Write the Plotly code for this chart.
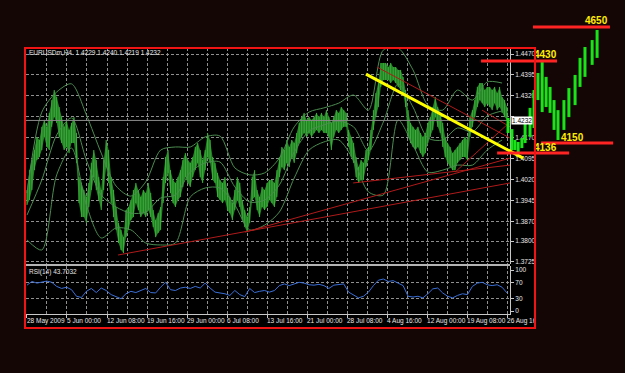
import plotly.graph_objects as go

W, H = 625, 373

# ------------------------------------------------------------------ DATA
TITLE = "EURUSDm,H4  1.4229 1.4240 1.4219 1.4232"
RSI_TITLE = "RSI(14) 43.7032"
LAST_PRICE = 1.4232

HIGH = [
    1.3983, 1.4054, 1.4090, 1.4126, 1.4173, 1.4162, 1.4209, 1.4234, 1.4209, 1.4259,
    1.4305, 1.4341, 1.4316, 1.4280, 1.4244, 1.4209, 1.4234, 1.4198, 1.4223, 1.4244,
    1.4187, 1.4029, 1.4008, 1.3983, 1.3958, 1.4008, 1.4080, 1.4126, 1.4090, 1.4029,
    1.3983, 1.4090, 1.4162, 1.4126, 1.4029, 1.3983, 1.3922, 1.3865, 1.3840, 1.3814,
    1.3911, 1.3922, 1.3947, 1.3983, 1.4008, 1.3983, 1.3958, 1.3983, 1.3972,
    1.4008, 1.3972, 1.3911, 1.3875, 1.3900, 1.3922, 1.4029, 1.4101, 1.4126, 1.4054,
    1.4019, 1.4008, 1.4029, 1.4054, 1.4090, 1.4115, 1.4090, 1.4080, 1.4101, 1.4137,
    1.4151, 1.4126, 1.4090, 1.4126, 1.4187, 1.4162, 1.4101, 1.4080, 1.4044, 1.4019,
    1.4008, 1.4029, 1.3983, 1.3958, 1.3936, 1.3983, 1.4029, 1.4008, 1.3947, 1.3911,
    1.3886, 1.3922, 1.4029, 1.4054, 1.3983, 1.3958, 1.3994, 1.3983, 1.4008, 1.4019,
    1.4019, 1.4008, 1.4054, 1.4101, 1.4137, 1.4126, 1.4162, 1.4137, 1.4162, 1.4151,
    1.4187, 1.4223, 1.4244, 1.4259, 1.4234, 1.4244, 1.4234, 1.4244, 1.4259, 1.4244,
    1.4259, 1.4244, 1.4269, 1.4244, 1.4223, 1.4244, 1.4269, 1.4259, 1.4280, 1.4269,
    1.4259, 1.4198, 1.4173, 1.4151, 1.4101, 1.4065, 1.4090, 1.4080, 1.4126, 1.4137,
    1.4198, 1.4269, 1.4330, 1.4366, 1.4438, 1.4438, 1.4438, 1.4423, 1.4438, 1.4423,
    1.4423, 1.4413, 1.4413, 1.4388, 1.4341, 1.4269, 1.4223, 1.4209, 1.4198, 1.4209,
    1.4187, 1.4173, 1.4187, 1.4223, 1.4244, 1.4280, 1.4316, 1.4280, 1.4259, 1.4223,
    1.4173, 1.4151, 1.4137, 1.4115, 1.4126, 1.4137, 1.4151, 1.4162, 1.4173, 1.4162,
    1.4244, 1.4269, 1.4305, 1.4352, 1.4366, 1.4366, 1.4341, 1.4352, 1.4352, 1.4341,
    1.4352, 1.4330, 1.4352, 1.4316, 1.4305, 1.4280,
]
LOW = [
    1.3929, 1.3947, 1.3983, 1.4054, 1.4090, 1.4101, 1.4126, 1.4173, 1.4137, 1.4126,
    1.4209, 1.4244, 1.4223, 1.4173, 1.4151, 1.4126, 1.4137, 1.4115, 1.4151, 1.4151,
    1.4080, 1.3936, 1.3886, 1.3886, 1.3865, 1.3922, 1.3983, 1.4029, 1.3983, 1.3947,
    1.3911, 1.3983, 1.4065, 1.4008, 1.3936, 1.3886, 1.3840, 1.3793, 1.3768, 1.3757,
    1.3814, 1.3840, 1.3875, 1.3886, 1.3936, 1.3911, 1.3886, 1.3900, 1.3886,
    1.3911, 1.3886, 1.3850, 1.3814, 1.3829, 1.3840, 1.3936, 1.4008, 1.4044, 1.3972,
    1.3936, 1.3922, 1.3947, 1.3958, 1.3994, 1.4029, 1.4008, 1.3994, 1.4029, 1.4054,
    1.4080, 1.4029, 1.4008, 1.4054, 1.4101, 1.4080, 1.4019, 1.4008, 1.3958, 1.3947,
    1.3936, 1.3947, 1.3911, 1.3900, 1.3875, 1.3911, 1.3947, 1.3922, 1.3875, 1.3850,
    1.3832, 1.3865, 1.3947, 1.3958, 1.3911, 1.3886, 1.3922, 1.3911, 1.3922, 1.3947,
    1.3936, 1.3922, 1.3958, 1.4029, 1.4065, 1.4054, 1.4080, 1.4065, 1.4101, 1.4080,
    1.4115, 1.4151, 1.4173, 1.4187, 1.4173, 1.4187, 1.4173, 1.4187, 1.4198, 1.4187,
    1.4198, 1.4187, 1.4187, 1.4173, 1.4126, 1.4173, 1.4198, 1.4187, 1.4198, 1.4209,
    1.4209, 1.4137, 1.4101, 1.4080, 1.4029, 1.4008, 1.4019, 1.4019, 1.4065, 1.4090,
    1.4126, 1.4198, 1.4244, 1.4280, 1.4352, 1.4377, 1.4377, 1.4377, 1.4366, 1.4377,
    1.4366, 1.4352, 1.4341, 1.4330, 1.4280, 1.4173, 1.4151, 1.4137, 1.4126, 1.4137,
    1.4115, 1.4101, 1.4115, 1.4151, 1.4173, 1.4198, 1.4244, 1.4209, 1.4187, 1.4137,
    1.4101, 1.4080, 1.4065, 1.4054, 1.4054, 1.4080, 1.4090, 1.4101, 1.4101, 1.4090,
    1.4173, 1.4209, 1.4244, 1.4280, 1.4305, 1.4294, 1.4280, 1.4294, 1.4280, 1.4269,
    1.4294, 1.4269, 1.4280, 1.4259, 1.4244, 1.4234,
]

BAND_STEP = 6  # one band value every 6 price samples
BAND_UP = [
    1.3972, 1.4262, 1.4334, 1.4363, 1.4252, 1.4115, 1.3997, 1.3961, 1.4012, 1.4126,
    1.4137, 1.4137, 1.4173, 1.4176, 1.4062, 1.4037, 1.4044, 1.4097, 1.4209, 1.4262,
    1.4277, 1.4294, 1.4323, 1.4269, 1.4484, 1.4491, 1.4413, 1.4287, 1.4269, 1.4341,
    1.4305, 1.4370, 1.4366,
]
BAND_MID = [
    1.3893, 1.4019, 1.4180, 1.4241, 1.4090, 1.3965, 1.3922, 1.3900, 1.3904, 1.3954,
    1.3965, 1.4047, 1.4080, 1.4083, 1.3994, 1.3940, 1.3947, 1.4001, 1.4119, 1.4194,
    1.4216, 1.4230, 1.4209, 1.4123, 1.4226, 1.4363, 1.4280, 1.4169, 1.4162, 1.4205,
    1.4191, 1.4248, 1.4266,
]
BAND_LO = [
    1.3804, 1.3768, 1.4037, 1.4133, 1.3929, 1.3811, 1.3847, 1.3840, 1.3793, 1.3786,
    1.3793, 1.3958, 1.3990, 1.3990, 1.3929, 1.3840, 1.3857, 1.3904, 1.4026, 1.4126,
    1.4155, 1.4162, 1.4090, 1.3976, 1.3965, 1.4234, 1.4144, 1.4047, 1.4054, 1.4072,
    1.4072, 1.4126, 1.4162,
]

RSI_STEP = 2
RSI = [
    63, 72, 68, 70, 73, 70, 60, 55, 58, 52, 36, 33, 48, 55, 45, 56, 50, 40, 34, 30,
    42, 48, 45, 50, 55, 45, 44, 58, 70, 52, 50, 56, 58, 55, 60, 56, 68, 56, 46, 44,
    42, 38, 50, 40, 35, 55, 45, 48, 50, 46, 50, 62, 66, 62, 66, 70, 68, 64, 63, 65,
    62, 55, 63, 64, 66, 46, 40, 32, 36, 46, 62, 75, 78, 72, 74, 68, 62, 36, 34, 36,
    32, 42, 54, 56, 44, 36, 32, 38, 42, 40, 60, 68, 70, 64, 62, 64, 58, 44,
]

PRICE_TICKS = [1.4470, 1.4395, 1.4320, 1.4245, 1.4170, 1.4095,
               1.4020, 1.3945, 1.3870, 1.3800, 1.3725]
PRICE_TICK_TEXT = ["1.4470", "1.4395", "1.4320", "", "1.4170", "1.4095",
                   "1.4020", "1.3945", "1.3870", "1.3800", "1.3725"]
RSI_TICKS = [100, 70, 30, 0]
TIME_LABELS = ["28 May 2009", "5 Jun 00:00", "12 Jun 08:00", "19 Jun 16:00",
               "29 Jun 00:00", "6 Jul 08:00", "13 Jul 16:00", "21 Jul 00:00",
               "28 Jul 08:00", "4 Aug 16:00", "12 Aug 00:00", "19 Aug 08:00",
               "26 Aug 16:00"]

# projected (hand drawn) bars to the right of the last bar
PROJ_X = [194.4, 196.0, 197.2, 198.5, 200.0, 201.3, 203.3, 204.9, 206.5, 208.2, 209.8,
          211.4, 213.0, 214.6, 217.0, 219.0, 221.5, 223.5, 225.5, 228.4, 230.4]
PROJ_HIGH = [1.4241, 1.4201, 1.4162, 1.4155, 1.4169, 1.4244, 1.4277, 1.4341, 1.4402,
             1.4441, 1.4388, 1.4352, 1.4305, 1.4269, 1.4305, 1.4348, 1.4395, 1.4456,
             1.4495, 1.4520, 1.4556]
PROJ_LOW = [1.4187, 1.4126, 1.4126, 1.4119, 1.4133, 1.4151, 1.4173, 1.4205, 1.4305,
            1.4262, 1.4280, 1.4259, 1.4198, 1.4162, 1.4198, 1.4244, 1.4287, 1.4352,
            1.4388, 1.4431, 1.4456]

# horizontal target levels (hand drawn)
LEVEL_TEXT = ["4650", "4430", "4150", "4136"]
LEVEL_PRICE = [1.4567, 1.4445, 1.4151, 1.4115]
LEVEL_FROM = [204.5, 183.5, 207.8, 190.0]
LEVEL_TO = [235.6, 214.2, 236.9, 219.1]
LEVEL_TEXT_AT = [230.0, 209.4, 220.3, 209.4]

# drawn trend lines: (x0, p0, x1, p1)
YELLOW_LINE = (137.0, 1.4398, 200.5, 1.4097)
RED_LINES = [
    (36.8, 1.3750, 195.2, 1.4008),
    (88.1, 1.3832, 195.2, 1.4097),
    (131.8, 1.4008, 195.2, 1.4072),
    (141.5, 1.4423, 195.2, 1.4169),
    (173.0, 1.4047, 195.2, 1.4226),
    (183.9, 1.4269, 195.2, 1.4209),
]

# ------------------------------------------------------------------ LAYOUT HELPERS
FONT = "Liberation Sans Narrow, Liberation Sans, Arial, sans-serif"
PX_PER_X = 2.4744          # pixels per price sample
X0 = -0.4                   # axis value at left edge of plot
PLOT_L, PLOT_R = 26, 510
FRAME_R = 535
MAIN_T, MAIN_B = 48, 264
RSI_T, RSI_B = 266, 314
FRAME_B = 328
P_TOP = 1.44915
P_PER_PX = 0.0003582
RSI_PX0, RSI_PX100 = 311, 270


def fx(px):
    return px / W


def fy(py):
    return 1 - py / H


def xr(left, right):
    return [X0 + (left - PLOT_L) / PX_PER_X, X0 + (right - PLOT_L) / PX_PER_X]


def pr(top, bottom):
    return [P_TOP - (bottom - MAIN_T) * P_PER_PX, P_TOP - (top - MAIN_T) * P_PER_PX]


def rsir(top, bottom):
    k = (RSI_PX0 - RSI_PX100) / 100.0
    return [(RSI_PX0 - bottom) / k, (RSI_PX0 - top) / k]


n = len(HIGH)
xs = list(range(n))
span = n - 1
label_pos = [k * span / 12 for k in range(len(TIME_LABELS))]

GRID = "#8f8f8f"
DASH = "3px,2px"
TXT = "#e6e6e6"

fig = go.Figure()

# ---- price: band between low/high plus bar segments
fig.add_trace(go.Scatter(x=xs, y=LOW, mode="lines", line=dict(width=0, color="#267a26"),
                         xaxis="x2", yaxis="y", hoverinfo="skip", showlegend=False))
fig.add_trace(go.Scatter(x=xs, y=HIGH, mode="lines", line=dict(width=0, color="#267a26"),
                         fill="tonexty", fillcolor="#267e26",
                         xaxis="x2", yaxis="y", hoverinfo="skip", showlegend=False))
segx, segy = [], []
for i, (h, l) in enumerate(zip(HIGH, LOW)):
    segx += [i, i, None]
    segy += [l, h, None]
fig.add_trace(go.Scatter(x=segx, y=segy, mode="lines", line=dict(width=1, color="#38b238"),
                         xaxis="x2", yaxis="y", hoverinfo="skip", showlegend=False))

# ---- bands
bx = [k * BAND_STEP for k in range(len(BAND_UP))]
for arr in (BAND_UP, BAND_MID, BAND_LO):
    fig.add_trace(go.Scatter(x=bx, y=arr, mode="lines",
                             line=dict(width=1, color="#4c8c50", shape="spline", smoothing=0.8),
                             xaxis="x2", yaxis="y", hoverinfo="skip", showlegend=False))

# ---- red trend lines
for (a, p0, b, p1) in RED_LINES:
    fig.add_trace(go.Scatter(x=[a, b], y=[p0, p1], mode="lines",
                             line=dict(width=1, color="#b01a1a"),
                             xaxis="x2", yaxis="y", hoverinfo="skip", showlegend=False))

# ---- bid line
fig.add_trace(go.Scatter(x=xr(PLOT_L, PLOT_R), y=[LAST_PRICE, LAST_PRICE], mode="lines",
                         line=dict(width=1, color="#8a8a8a"),
                         xaxis="x2", yaxis="y", hoverinfo="skip", showlegend=False))

# ---- RSI
rx = [k * RSI_STEP for k in range(len(RSI))]
fig.add_trace(go.Scatter(x=rx, y=RSI, mode="lines", line=dict(width=1, color="#3b6fd6"),
                         xaxis="x", yaxis="y2", hoverinfo="skip", showlegend=False))

# ---- overlay drawings (extend beyond the plot to the right)
px_, py_ = [], []
for x, h, l in zip(PROJ_X, PROJ_HIGH, PROJ_LOW):
    px_ += [x, x, None]
    py_ += [l, h, None]
fig.add_trace(go.Scatter(x=px_, y=py_, mode="lines", line=dict(width=3, color="#18e418"),
                         xaxis="x3", yaxis="y3", hoverinfo="skip", showlegend=False))
a, p0, b, p1 = YELLOW_LINE
fig.add_trace(go.Scatter(x=[a, b], y=[p0, p1], mode="lines", line=dict(width=3, color="#ffff00"),
                         xaxis="x3", yaxis="y3", hoverinfo="skip", showlegend=False))
for t, p, a, b in zip(LEVEL_TEXT, LEVEL_PRICE, LEVEL_FROM, LEVEL_TO):
    fig.add_trace(go.Scatter(x=[a, b], y=[p, p], mode="lines", line=dict(width=3, color="#ff2424"),
                             xaxis="x3", yaxis="y3", hoverinfo="skip", showlegend=False))
fig.add_trace(go.Scatter(x=LEVEL_TEXT_AT, y=LEVEL_PRICE, mode="text", text=LEVEL_TEXT,
                         textposition="top center",
                         textfont=dict(family="Liberation Sans, Arial", size=10, color="#ffee00",
                                       weight="bold"),
                         xaxis="x3", yaxis="y3", hoverinfo="skip", showlegend=False,
                         cliponaxis=False))

# ---- time labels (clipped at frame)
fig.add_trace(go.Scatter(x=label_pos, y=[0.5] * len(label_pos), mode="text", text=TIME_LABELS,
                         textposition="middle right",
                         textfont=dict(family=FONT, size=6.5, color=TXT),
                         xaxis="x4", yaxis="y4", hoverinfo="skip", showlegend=False,
                         cliponaxis=True))

grid_pos = [k * span / 24 for k in range(25)]

layout = dict(
    width=W, height=H,
    margin=dict(l=0, r=0, t=0, b=0),
    paper_bgcolor="#150606",
    plot_bgcolor="rgba(0,0,0,0)",
    showlegend=False,
    font=dict(family=FONT, size=7, color=TXT),
    xaxis=dict(domain=[fx(PLOT_L), fx(PLOT_R)], anchor="y2", range=xr(PLOT_L, PLOT_R),
               tickvals=label_pos, ticktext=[""] * len(label_pos), ticks="outside",
               ticklen=3, tickcolor="#c8c8c8", showgrid=True, gridcolor=GRID, griddash=DASH,
               minor=dict(tickvals=grid_pos, showgrid=True, gridcolor=GRID, griddash=DASH, ticks=""),
               showline=True, linecolor="#c8c8c8", linewidth=1, zeroline=False, fixedrange=True),
    xaxis2=dict(domain=[fx(PLOT_L), fx(PLOT_R)], anchor="y", range=xr(PLOT_L, PLOT_R),
                tickvals=grid_pos, showticklabels=False, ticks="", showgrid=True,
                gridcolor=GRID, griddash=DASH, zeroline=False, showline=False),
    yaxis=dict(domain=[fy(MAIN_B), fy(MAIN_T)], anchor="x2", side="right",
               range=pr(MAIN_T, MAIN_B), tickvals=PRICE_TICKS,
               ticktext=PRICE_TICK_TEXT, ticks="outside", ticklen=3, tickcolor="#c8c8c8",
               showgrid=True, gridcolor=GRID, griddash=DASH, zeroline=False,
               showline=True, linecolor="#c8c8c8", linewidth=1,
               tickfont=dict(family=FONT, size=6.5, color=TXT)),
    yaxis2=dict(domain=[fy(RSI_B), fy(RSI_T)], anchor="x", side="right",
                range=rsir(RSI_T, RSI_B), tickvals=RSI_TICKS, ticktext=[str(v) for v in RSI_TICKS],
                ticks="outside", ticklen=3, tickcolor="#c8c8c8", showgrid=False,
                minor=dict(tickvals=[70, 30], showgrid=True, gridcolor=GRID, griddash=DASH, ticks=""),
                zeroline=False, showline=True, linecolor="#c8c8c8", linewidth=1,
                tickfont=dict(family=FONT, size=6.5, color=TXT)),
    xaxis3=dict(domain=[fx(PLOT_L), 1.0], anchor="y3", range=xr(PLOT_L, W), visible=False),
    yaxis3=dict(domain=[fy(MAIN_B), 1.0], anchor="x3", range=pr(0, MAIN_B), visible=False),
    xaxis4=dict(domain=[fx(PLOT_L), fx(FRAME_R - 1)], anchor="y4", range=xr(PLOT_L, FRAME_R - 1),
                visible=False),
    yaxis4=dict(domain=[fy(FRAME_B - 1), fy(RSI_B + 1)], anchor="x4", range=[0, 1], visible=False),
    shapes=[
        dict(type="rect", xref="paper", yref="paper", x0=fx(25), x1=fx(FRAME_R),
             y0=fy(FRAME_B), y1=fy(MAIN_T), fillcolor="#000000", line=dict(width=0), layer="below"),
        dict(type="rect", xref="paper", yref="paper", x0=fx(PLOT_L), x1=fx(PLOT_R),
             y0=fy(RSI_T), y1=fy(MAIN_B), fillcolor="#b4b4b4", line=dict(width=0), layer="above"),
        dict(type="rect", xref="paper", yref="paper", x0=fx(25), x1=fx(FRAME_R),
             y0=fy(FRAME_B), y1=fy(MAIN_T), fillcolor="rgba(0,0,0,0)",
             line=dict(width=2, color="#f01414"), layer="above"),
    ],
    annotations=[
        dict(xref="paper", yref="paper", x=fx(27), y=fy(53), text=TITLE, showarrow=False,
             xanchor="left", yanchor="middle", font=dict(family=FONT, size=6.5, color=TXT)),
        dict(xref="paper", yref="paper", x=fx(27), y=fy(272), text=RSI_TITLE, showarrow=False,
             xanchor="left", yanchor="middle", font=dict(family=FONT, size=6.5, color=TXT)),
        dict(xref="paper", yref="y", x=fx(PLOT_R + 1), y=LAST_PRICE, text=f"{LAST_PRICE:.4f}",
             showarrow=False, xanchor="left", yanchor="middle", bgcolor="#ffffff",
             borderpad=0, font=dict(family=FONT, size=6.5, color="#000000")),
    ],
)
fig.update_layout(**layout)
fig.write_html("out.html")
